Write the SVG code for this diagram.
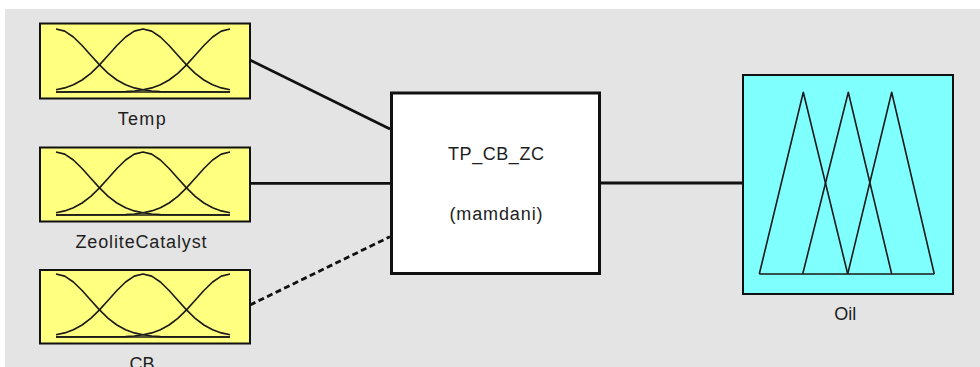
<svg xmlns="http://www.w3.org/2000/svg" width="980" height="367" viewBox="0 0 980 367">
  <style>
    .bg { fill: #e4e4e4; }
    .in { fill: #ffff80; stroke: #111; stroke-width: 2; }
    .out { fill: #80ffff; stroke: #111; stroke-width: 2; }
    .sys { fill: #ffffff; stroke: #111; stroke-width: 3; }
    .mf { fill: none; stroke: #1a1a1a; stroke-width: 1.6; stroke-linejoin: round; }
    .conn { fill: none; stroke: #111; stroke-width: 2.8; }
    .dash { stroke-dasharray: 6 3.5; }
    .lbl { font-family: "Liberation Sans", Arial, sans-serif; font-size: 18px; fill: #1e1e1e; text-anchor: middle; }
  </style>
  <defs>
    <g id="gauss3">
      <path class="mf" d="M56,29 L64.7,31.1 L73.4,37 L82.1,45.5 L90.8,55.3 L99.5,64.9 L108.2,73.3 L116.9,80 L125.6,84.7 L134.3,87.9 L143,89.8 L151.7,91 L160.4,91.6 L230,92"/>
      <path class="mf" d="M56,89.8 L64.7,87.9 L73.4,84.7 L82.1,80 L90.8,73.3 L99.5,64.9 L108.2,55.3 L116.9,45.5 L125.6,37 L134.3,31.1 L143,29 L151.7,31.1 L160.4,37 L169.1,45.5 L177.8,55.3 L186.5,64.9 L195.2,73.3 L203.9,80 L212.6,84.7 L221.3,87.9 L230,89.8"/>
      <path class="mf" d="M56,92 L125.6,91.6 L134.3,91 L143,89.8 L151.7,87.9 L160.4,84.7 L169.1,80 L177.8,73.3 L186.5,64.9 L195.2,55.3 L203.9,45.5 L212.6,37 L221.3,31.1 L230,29"/>
      <path class="mf" d="M56,92 L230,92"/>
    </g>
  </defs>

  <rect class="bg" x="5" y="9" width="975" height="358"/>

  <g id="connectors">
    <path class="conn" d="M250,60 L390,129"/>
    <path class="conn" d="M250,183.3 L390,183.3"/>
    <path class="conn dash" d="M250,305 L390,236.7"/>
    <path class="conn" d="M601,183 L742,183"/>
  </g>

  <g id="node-temp">
    <rect class="in" x="40" y="23.5" width="210" height="75"/>
    <use href="#gauss3"/>
    <text class="lbl" x="141.7" y="125" textLength="48" lengthAdjust="spacing">Temp</text>
  </g>

  <g id="node-zeolite">
    <rect class="in" x="40" y="147.5" width="210" height="74"/>
    <use href="#gauss3" transform="translate(0,123)"/>
    <text class="lbl" x="141" y="247.5" textLength="131" lengthAdjust="spacing">ZeoliteCatalyst</text>
  </g>

  <g id="node-cb">
    <rect class="in" x="40" y="270" width="210" height="73.5"/>
    <use href="#gauss3" transform="translate(0,245)"/>
    <text class="lbl" x="142" y="370">CB</text>
  </g>

  <g id="node-system">
    <rect class="sys" x="391.5" y="93" width="208" height="180.5"/>
    <text class="lbl" x="496" y="159.5" textLength="96" lengthAdjust="spacing">TP_CB_ZC</text>
    <text class="lbl" x="496" y="220" textLength="93" lengthAdjust="spacing">(mamdani)</text>
  </g>

  <g id="node-oil">
    <rect class="out" x="743" y="75" width="210" height="219"/>
    <path class="mf" d="M759.3,274 L803.3,92.3 L847.7,274"/>
    <path class="mf" d="M802.7,274 L848.3,92.3 L891.7,274"/>
    <path class="mf" d="M847.7,274 L891.7,92.3 L934.3,274"/>
    <path class="mf" d="M759.3,274 L934.3,274"/>
    <text class="lbl" x="845.3" y="319.5">Oil</text>
  </g>
</svg>
